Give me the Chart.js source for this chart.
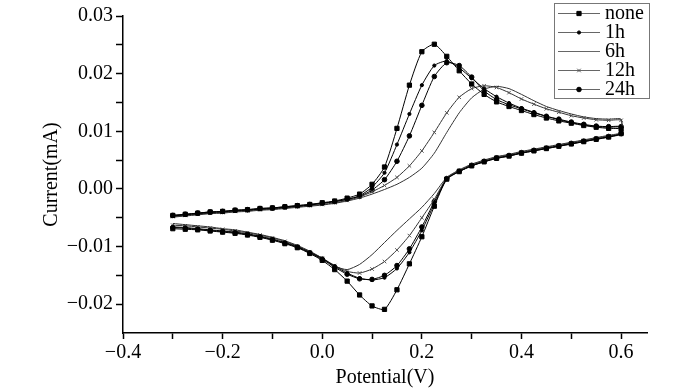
<!DOCTYPE html>
<html>
<head>
<meta charset="utf-8">
<script src="https://cdn.jsdelivr.net/npm/chart.js@4/dist/chart.umd.min.js"></script>
<style>
	body { margin: 0; background: #fff; }
	canvas { display: block; }
</style>
</head>
<body>
<canvas id="cvChart" width="700" height="391"></canvas>
<script>
// Potential (V): forward scan -0.3 -> 0.6, reverse scan 0.6 -> -0.3
const potentialForward = [
	-0.3, -0.275, -0.25, -0.225, -0.2, -0.175, -0.15, -0.125, -0.1, -0.075,
	-0.05, -0.025, 0.0, 0.025, 0.05, 0.075, 0.1, 0.125, 0.15, 0.175,
	0.2, 0.225, 0.25, 0.275, 0.3, 0.325, 0.35, 0.375, 0.4, 0.425,
	0.45, 0.475, 0.5, 0.525, 0.55, 0.575, 0.6
];
const potentialReverse = [
	0.6, 0.575, 0.55, 0.525, 0.5, 0.475, 0.45, 0.425, 0.4, 0.375,
	0.35, 0.325, 0.3, 0.275, 0.25, 0.225, 0.2, 0.175, 0.15, 0.125,
	0.1, 0.075, 0.05, 0.025, 0.0, -0.025, -0.05, -0.075, -0.1, -0.125,
	-0.15, -0.175, -0.2, -0.225, -0.25, -0.275, -0.3
];

// Current (mA), one pair of arrays per soaking time
const noneForward = [
	-0.0046, -0.0044, -0.0042, -0.0040, -0.0039, -0.0037, -0.0036, -0.0034, -0.0033, -0.0031,
	-0.0029, -0.0027, -0.0024, -0.0021, -0.0016, -0.0009, 0.0008, 0.0038, 0.0105, 0.0180,
	0.0238, 0.0251, 0.0230, 0.0205, 0.0182, 0.0164, 0.0151, 0.0143, 0.0136, 0.0129,
	0.0123, 0.0118, 0.0114, 0.0110, 0.0107, 0.0105, 0.0104
];
const noneReverse = [
	0.0096, 0.0090, 0.0086, 0.0082, 0.0078, 0.0074, 0.0070, 0.0066, 0.0062, 0.0057,
	0.0053, 0.0047, 0.0040, 0.0030, 0.0017, -0.0030, -0.0083, -0.0130, -0.0175, -0.0209,
	-0.0203, -0.0184, -0.0160, -0.0140, -0.0124, -0.0112, -0.0102, -0.0095, -0.0089, -0.0084,
	-0.0080, -0.0077, -0.0075, -0.0073, -0.0071, -0.0070, -0.0069
];
const h1Forward = [
	-0.0047, -0.0045, -0.0043, -0.0041, -0.0040, -0.0038, -0.0037, -0.0035, -0.0034, -0.0032,
	-0.0030, -0.0028, -0.0025, -0.0022, -0.0018, -0.0012, 0.0003, 0.0028, 0.0077, 0.0130,
	0.0180, 0.0214, 0.0222, 0.0210, 0.0192, 0.0174, 0.0160, 0.0149, 0.0140, 0.0133,
	0.0126, 0.0120, 0.0115, 0.0111, 0.0108, 0.0107, 0.0107
];
const h1Reverse = [
	0.0095, 0.0090, 0.0086, 0.0082, 0.0078, 0.0074, 0.0070, 0.0066, 0.0062, 0.0057,
	0.0053, 0.0047, 0.0040, 0.0030, 0.0017, -0.0026, -0.0072, -0.0110, -0.0138, -0.0154,
	-0.0158, -0.0155, -0.0146, -0.0134, -0.0121, -0.0110, -0.0100, -0.0093, -0.0087, -0.0082,
	-0.0078, -0.0075, -0.0073, -0.0071, -0.0069, -0.0067, -0.0066
];
const h6Forward = [
	-0.0049, -0.0047, -0.0045, -0.0043, -0.0042, -0.0040, -0.0039, -0.0037, -0.0036, -0.0034,
	-0.0032, -0.0030, -0.0028, -0.0025, -0.0021, -0.0016, -0.0009, -0.0001, 0.0008, 0.0020,
	0.0036, 0.0062, 0.0098, 0.0132, 0.0158, 0.0173, 0.0178, 0.0174, 0.0164, 0.0153,
	0.0143, 0.0136, 0.0130, 0.0125, 0.0122, 0.0121, 0.0121
];
const h6Reverse = [
	0.0098, 0.0093, 0.0089, 0.0085, 0.0081, 0.0077, 0.0073, 0.0069, 0.0065, 0.0060,
	0.0056, 0.0050, 0.0043, 0.0033, 0.0020, -0.0008, -0.0032, -0.0052, -0.0072, -0.0093,
	-0.0114, -0.0131, -0.0140, -0.0134, -0.0120, -0.0108, -0.0098, -0.0090, -0.0084, -0.0079,
	-0.0075, -0.0071, -0.0069, -0.0066, -0.0064, -0.0062, -0.0060
];
const h12Forward = [
	-0.0048, -0.0046, -0.0044, -0.0042, -0.0041, -0.0039, -0.0038, -0.0036, -0.0035, -0.0033,
	-0.0031, -0.0029, -0.0027, -0.0024, -0.0020, -0.0014, -0.0005, 0.0006, 0.0020, 0.0040,
	0.0066, 0.0098, 0.0132, 0.0159, 0.0174, 0.0179, 0.0176, 0.0167, 0.0156, 0.0147,
	0.0139, 0.0133, 0.0127, 0.0123, 0.0120, 0.0119, 0.0119
];
const h12Reverse = [
	0.0097, 0.0092, 0.0088, 0.0084, 0.0080, 0.0076, 0.0072, 0.0068, 0.0064, 0.0059,
	0.0055, 0.0049, 0.0042, 0.0032, 0.0019, -0.0018, -0.0050, -0.0081, -0.0106, -0.0126,
	-0.0139, -0.0146, -0.0143, -0.0133, -0.0120, -0.0109, -0.0099, -0.0091, -0.0085, -0.0080,
	-0.0076, -0.0073, -0.0070, -0.0068, -0.0066, -0.0064, -0.0063
];
const h24Forward = [
	-0.0046, -0.0044, -0.0042, -0.0040, -0.0039, -0.0037, -0.0036, -0.0034, -0.0033, -0.0031,
	-0.0029, -0.0027, -0.0025, -0.0022, -0.0018, -0.0013, -0.0002, 0.0016, 0.0048, 0.0092,
	0.0145, 0.0195, 0.0219, 0.0214, 0.0194, 0.0170, 0.0155, 0.0146, 0.0139, 0.0132,
	0.0126, 0.0121, 0.0116, 0.0112, 0.0109, 0.0108, 0.0108
];
const h24Reverse = [
	0.0096, 0.0091, 0.0087, 0.0083, 0.0079, 0.0075, 0.0071, 0.0067, 0.0063, 0.0058,
	0.0054, 0.0048, 0.0041, 0.0031, 0.0018, -0.0022, -0.0066, -0.0104, -0.0133, -0.0150,
	-0.0157, -0.0156, -0.0148, -0.0136, -0.0122, -0.0111, -0.0101, -0.0094, -0.0088, -0.0083,
	-0.0079, -0.0076, -0.0074, -0.0072, -0.0070, -0.0068, -0.0067
];

const seriesLabels = ['none', '1h', '6h', '12h', '24h'];
const xTickValues = [-0.4, -0.3, -0.2, -0.1, 0.0, 0.1, 0.2, 0.3, 0.4, 0.5, 0.6];
const yTickValues = [-0.02, -0.015, -0.01, -0.005, 0.0, 0.005, 0.01, 0.015, 0.02, 0.025, 0.03];

// One closed scan: forward branch then reverse branch
function loop(fwd, rev) {
	const pts = [];
	potentialForward.forEach(function(v, i) { pts.push({x: v, y: fwd[i]}); });
	potentialReverse.forEach(function(v, i) { pts.push({x: v, y: rev[i]}); });
	return pts;
}

function minus(s) {
	return s.replace('-', '\u2212');
}

const FONT = "'Liberation Serif', 'Times New Roman', serif";

const styles = [
	{pointStyle: 'rect', pointRadius: 3, color: '#000', lineColor: '#000'},
	{pointStyle: 'circle', pointRadius: 1.6, color: '#000', lineColor: '#000'},
	{pointStyle: false, pointRadius: 0, color: '#333', lineColor: '#333'},
	{pointStyle: 'crossRot', pointRadius: 2.5, color: '#555', lineColor: '#333'},
	{pointStyle: 'circle', pointRadius: 2.3, color: '#000', lineColor: '#000'}
];
const series = [
	loop(noneForward, noneReverse),
	loop(h1Forward, h1Reverse),
	loop(h6Forward, h6Reverse),
	loop(h12Forward, h12Reverse),
	loop(h24Forward, h24Reverse)
];

// Boxed legend in the top right corner, as in the original figure
const boxLegend = {
	id: 'boxLegend',
	afterDraw: function(chart) {
		const ctx = chart.ctx;
		const left = 554, top = 3, w = 95, h = 95;
		ctx.save();
		ctx.fillStyle = '#fff';
		ctx.fillRect(left, top, w, h);
		ctx.strokeStyle = '#777';
		ctx.lineWidth = 1;
		ctx.strokeRect(left + 0.5, top + 0.5, w, h);
		ctx.font = '20px ' + FONT;
		ctx.textBaseline = 'middle';
		seriesLabels.forEach(function(label, i) {
			const y = 13 + i * 19;
			const st = styles[i];
			ctx.strokeStyle = '#666';
			ctx.lineWidth = 1;
			ctx.beginPath();
			ctx.moveTo(558, y + 0.5);
			ctx.lineTo(600, y + 0.5);
			ctx.stroke();
			if (st.pointStyle) {
				ctx.fillStyle = st.color;
				ctx.strokeStyle = st.color;
				Chart.helpers.drawPoint(ctx, {
					pointStyle: st.pointStyle,
					radius: st.pointRadius,
					rotation: 0,
					borderWidth: 1
				}, 579, y + 0.5);
			}
			ctx.fillStyle = '#000';
			ctx.fillText(label, 605, y + 1);
		});
		ctx.restore();
	}
};

const ctx = document.getElementById('cvChart').getContext('2d');
new Chart(ctx, {
	type: 'scatter',
	data: {
		datasets: series.map(function(pts, i) {
			const st = styles[i];
			return {
				label: seriesLabels[i],
				data: pts,
				showLine: true,
				borderColor: st.lineColor,
				borderWidth: 1,
				tension: 0.2,
				pointStyle: st.pointStyle,
				pointRadius: st.pointRadius,
				pointBackgroundColor: st.color,
				pointBorderColor: st.color,
				pointBorderWidth: 1
			};
		})
	},
	options: {
		responsive: false,
		animation: false,
		layout: { padding: { left: 0, right: 53, top: 16, bottom: 0 } },
		plugins: {
			legend: { display: false },
			tooltip: { enabled: false }
		},
		scales: {
			x: {
				type: 'linear',
				min: -0.4,
				max: 0.652,
				afterBuildTicks: function(axis) {
					axis.ticks = xTickValues.map(function(v) { return {value: v}; });
				},
				afterFit: function(axis) { axis.height = 58; },
				border: { color: '#000', width: 1.5 },
				grid: { drawOnChartArea: false, tickLength: 6, tickColor: '#000', tickWidth: 1.5 },
				ticks: {
					padding: 2,
					color: '#000',
					font: { family: FONT, size: 20 },
					maxRotation: 0,
					autoSkip: false,
					callback: function(v) {
						const k = Math.round(v * 10);
						return k % 2 === 0 ? minus(v.toFixed(1)) : '';
					}
				},
				title: {
					display: true,
					text: 'Potential(V)',
					color: '#000',
					font: { family: FONT, size: 20 },
					padding: { top: 0, bottom: 1 }
				}
			},
			y: {
				type: 'linear',
				min: -0.025,
				max: 0.03,
				afterBuildTicks: function(axis) {
					axis.ticks = yTickValues.map(function(v) { return {value: v}; });
				},
				afterFit: function(axis) { axis.width = 123; },
				border: { color: '#000', width: 1.5 },
				grid: { drawOnChartArea: false, tickLength: 7, tickColor: '#000', tickWidth: 1.5 },
				ticks: {
					padding: 3,
					color: '#000',
					font: { family: FONT, size: 20 },
					autoSkip: false,
					callback: function(v) {
						const k = Math.round(v * 1000);
						return k % 10 === 0 ? minus(v.toFixed(2)) : '';
					}
				},
				title: {
					display: true,
					text: 'Current(mA)',
					color: '#000',
					font: { family: FONT, size: 20 },
					padding: { top: 40, bottom: 0 }
				}
			}
		}
	},
	plugins: [boxLegend]
});
</script>
</body>
</html>
